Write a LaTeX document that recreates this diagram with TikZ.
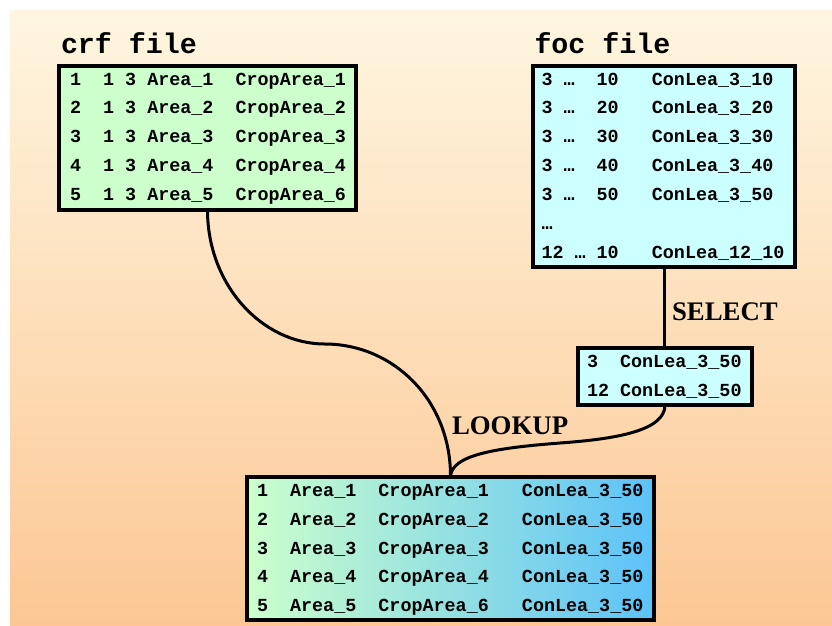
\documentclass[tikz,border=0pt]{standalone}
\usepackage{fontspec}
\newfontfamily\monofam{Liberation Mono}
\newfontfamily\seriffam{Liberation Serif}
\pgfdeclarelayer{back}
\pgfsetlayers{back,main}

\definecolor{bgtop}{RGB}{254,246,224}
\definecolor{bgbottom}{RGB}{252,199,148}
\definecolor{crfgreen}{RGB}{204,255,204}
\definecolor{foccyan}{RGB}{204,255,255}
\definecolor{resblue}{RGB}{92,194,248}
\definecolor{resmid}{RGB}{165,232,228}

\tikzset{
  tablebox/.style={draw=black, line width=3.5pt, rectangle, inner sep=0pt, outer sep=0pt},
  rowtext/.style={anchor=base west, inner sep=0pt, outer sep=0pt,
    font=\monofam\bfseries\fontsize{18.4}{20}\selectfont},
  filetitle/.style={anchor=base west, inner sep=0pt, outer sep=0pt,
    font=\monofam\bfseries\fontsize{28.3}{30}\selectfont},
  oplabel/.style={anchor=base west, inner sep=0pt, outer sep=0pt,
    font=\seriffam\bfseries\fontsize{26.8}{28}\selectfont},
  link/.style={draw=black, line width=3pt}
}

\begin{document}
\begin{tikzpicture}[x=1pt,y=-1pt]
\useasboundingbox (0,0) rectangle (832,625);

% page background
\begin{pgfonlayer}{back}
  \shade[top color=bgtop, bottom color=bgbottom] (10,10) rectangle (832,625);
\end{pgfonlayer}

% file titles
\node[filetitle] (crftitle) at (61,53) {crf file};
\node[filetitle] (foctitle) at (534.5,53) {foc file};

% crf file
\node[tablebox, fill=crfgreen, minimum width=297pt, minimum height=144pt] (crf) at (207.5,138) {};
\foreach \s [count=\i] in {
  {1~~1~3~Area\_1~~CropArea\_1},
  {2~~1~3~Area\_2~~CropArea\_2},
  {3~~1~3~Area\_3~~CropArea\_3},
  {4~~1~3~Area\_4~~CropArea\_4},
  {5~~1~3~Area\_5~~CropArea\_6}}
  \node[rowtext] (crf-\i) at (70,{85+28.9*(\i-1)}) {\s};

% foc file
\node[tablebox, fill=foccyan, minimum width=262pt, minimum height=201pt] (foc) at (664,166.5) {};
\foreach \s [count=\i] in {
  {3~…~~10~~~ConLea\_3\_10},
  {3~…~~20~~~ConLea\_3\_20},
  {3~…~~30~~~ConLea\_3\_30},
  {3~…~~40~~~ConLea\_3\_40},
  {3~…~~50~~~ConLea\_3\_50},
  {…},
  {12~…~10~~~ConLea\_12\_10}}
  \node[rowtext] (foc-\i) at (541.5,{85+28.9*(\i-1)}) {\s};

% selected records
\node[tablebox, fill=foccyan, minimum width=174pt, minimum height=57pt] (sel) at (665,376.5) {};
\node[rowtext] (sel-1) at (587,367.3) {3~~ConLea\_3\_50};
\node[rowtext] (sel-2) at (587,396.2) {12~ConLea\_3\_50};

% result table
\node[tablebox, left color=crfgreen, middle color=resmid, right color=resblue,
      minimum width=407pt, minimum height=143pt] (res) at (450.5,548.5) {};
\foreach \s [count=\i] in {
  {1~~Area\_1~~CropArea\_1~~~ConLea\_3\_50},
  {2~~Area\_2~~CropArea\_2~~~ConLea\_3\_50},
  {3~~Area\_3~~CropArea\_3~~~ConLea\_3\_50},
  {4~~Area\_4~~CropArea\_4~~~ConLea\_3\_50},
  {5~~Area\_5~~CropArea\_6~~~ConLea\_3\_50}}
  \node[rowtext] (res-\i) at (257,{496.7+28.75*(\i-1)}) {\s};

% operation labels
\node[oplabel] (select) at (672,320) {SELECT};
\node[oplabel] (lookup) at (452,434) {LOOKUP};

% connectors
\begin{pgfonlayer}{back}
  \draw[link] (foc.south) -- (foc.south |- sel.north);
  \draw[link] (crf.south) .. controls +(0,75) and (262,344) .. (325,344)
                          .. controls (393,344) and (451,400) .. (res.north);
  \draw[link] (sel.south) .. controls +(0,26) and (615,439) .. (560,443)
                          .. controls (495,448) and (451,455) .. (res.north);
\end{pgfonlayer}
\end{tikzpicture}
\end{document}
